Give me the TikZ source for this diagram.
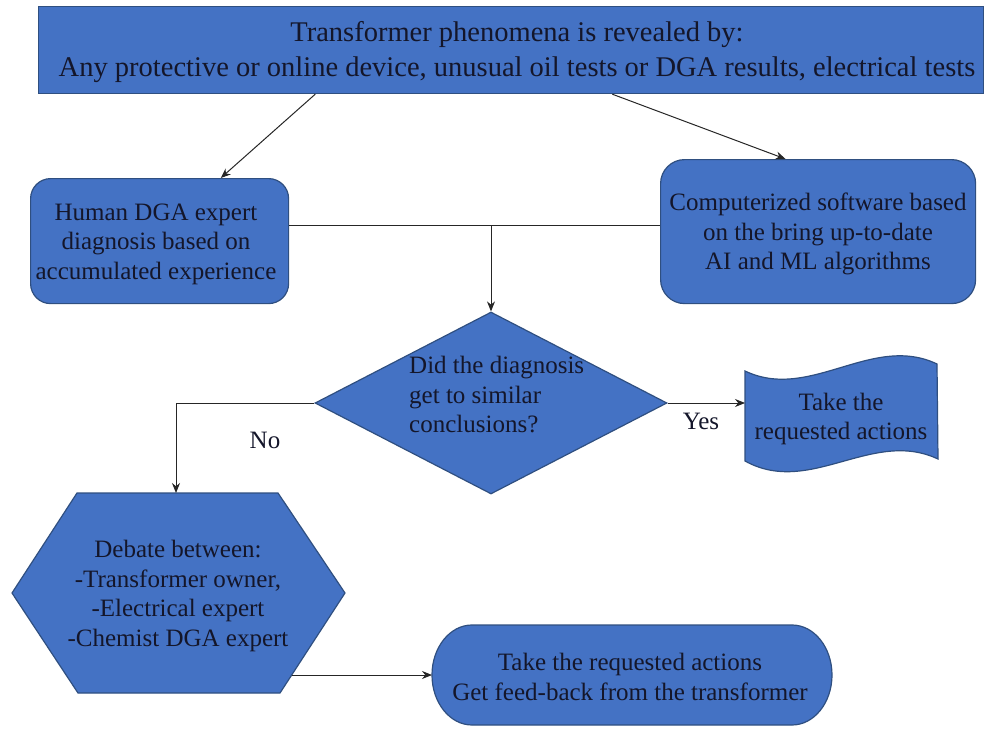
\documentclass[tikz,border=0pt]{standalone}
\usepackage{fontspec}
\setmainfont{Liberation Serif}
\usetikzlibrary{arrows.meta,shapes.geometric,calc}
\definecolor{boxblue}{HTML}{4472C4}
\definecolor{boxedge}{HTML}{2F4F80}
\definecolor{txt}{HTML}{14162A}
\begin{document}
\begin{tikzpicture}[x=1pt,y=-1pt,
  shapebox/.style={fill=boxblue,draw=boxedge,line width=1.2pt},
  lbl/.style={font=\fontsize{25}{29.5}\selectfont,text=txt,align=center,inner sep=0pt},
  conn/.style={draw=black!85,line width=1pt},
  arr/.style={conn,-{Stealth[length=10pt,width=8pt]}}]
\useasboundingbox (0,0) rectangle (985,733);
% top box
\node[shapebox,rectangle,minimum width=945pt,minimum height=87pt,anchor=north west] (top) at (38,6) {};
\node[lbl,font=\fontsize{28.5}{35}\selectfont] (toptxt) at (517,52) {Transformer phenomena is revealed by:\\Any protective or online device, unusual oil tests or DGA results, electrical tests};
% human box
\node[shapebox,rectangle,rounded corners=20pt,minimum width=258pt,minimum height=125pt,anchor=north west] (human) at (30,178) {};
\node[lbl] (humantxt) at (156,244) {Human DGA expert\\diagnosis based on\\accumulated experience};
% computerized box
\node[shapebox,rectangle,rounded corners=24pt,minimum width=315pt,minimum height=144pt,anchor=north west] (comp) at (660,159) {};
\node[lbl] (comptxt) at (818,234) {Computerized software based\\on the bring up-to-date\\AI and ML algorithms};
% diamond
\node[shapebox,diamond,minimum width=352pt,minimum height=182pt,inner sep=0pt] (dia) at (491,403) {};
\node[lbl,align=left,anchor=north west] (diatxt) at (409,356) {Did the diagnosis\\get to similar\\conclusions?};
% tape
\coordinate (tapeW) at (745,400);
\draw[shapebox] (745,371) .. controls (810,402) and (872,333) .. (937,364)
  -- (938,459) .. controls (872,428) and (810,497) .. (745,461) -- cycle;
\node[lbl] (tapetxt) at (841,419) {Take the\\requested actions};
% hexagon
\coordinate (hexN) at (176,493);
\coordinate (hexout) at (292,675);
\draw[shapebox] (77,493) -- (278,493) -- (345,593) -- (280,693) -- (78,693) -- (12,593) -- cycle;
\node[lbl] (hextxt) at (178,596) {Debate between:\\-Transformer owner,\\-Electrical expert\\-Chemist DGA expert};
% stadium (elliptical ends)
\coordinate (stadW) at (432,675);
\draw[shapebox] (472,625) -- (792,625) arc[start angle=90,end angle=-90,x radius=40,y radius=-50]
  -- (472,725) arc[start angle=270,end angle=90,x radius=40,y radius=-50] -- cycle;
\node[lbl] (stadtxt) at (630,677) {Take the requested actions\\Get feed-back from the transformer};
% connectors
\draw[arr] ($(top.south west)!0.293!(top.south east)$) -- ($(human.north west)!0.736!(human.north east)$);
\draw[arr] ($(top.south west)!0.607!(top.south east)$) -- ($(comp.north west)!0.397!(comp.north east)$);
\coordinate (j) at (491,225);
\draw[conn] (human.east |- j) -- (comp.west |- j);
\draw[arr] (j) -- (dia.north);
\draw[arr] (dia.west) -| (hexN);
\draw[arr] (dia.east) -- (tapeW |- dia.east);
\draw[arr] (hexout) -- (stadW);
\node[lbl] (yes) at (701,421) {Yes};
\node[lbl] (no) at (265,440) {No};
\end{tikzpicture}
\end{document}
